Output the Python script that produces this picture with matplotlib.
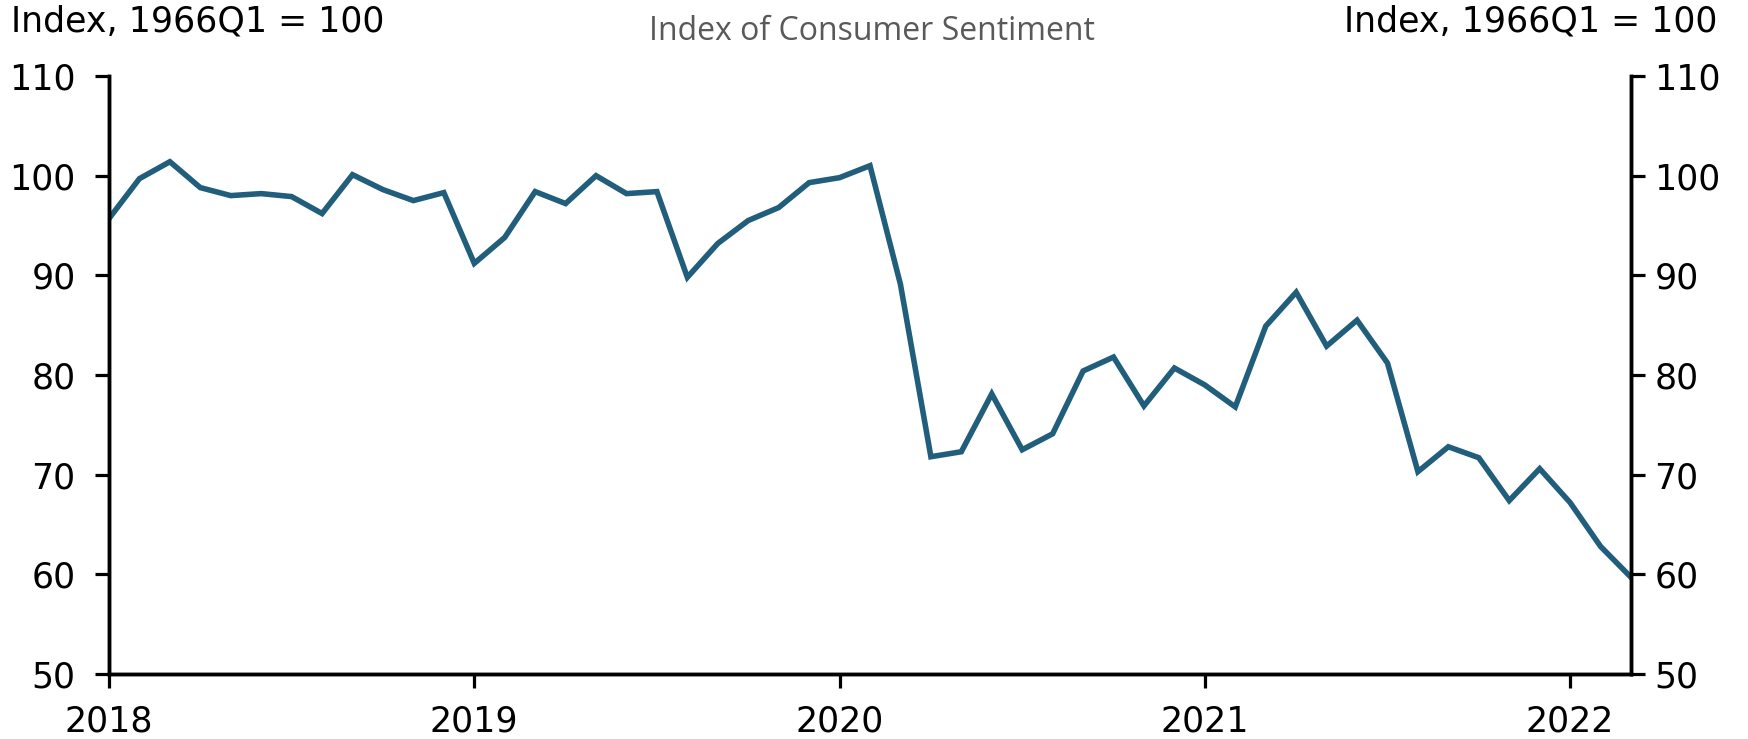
import matplotlib
matplotlib.use("Agg")
import matplotlib.pyplot as plt
import numpy as np

months = [f"{y}-{m:02d}" for y in range(2018, 2023) for m in range(1, 13)][:51]
sentiment = [
    95.7, 99.7, 101.4, 98.8, 98.0, 98.2, 97.9, 96.2, 100.1, 98.6, 97.5, 98.3,
    91.2, 93.8, 98.4, 97.2, 100.0, 98.2, 98.4, 89.8, 93.2, 95.5, 96.8, 99.3,
    99.8, 101.0, 89.1, 71.8, 72.3, 78.1, 72.5, 74.1, 80.4, 81.8, 76.9, 80.7,
    79.0, 76.8, 84.9, 88.3, 82.9, 85.5, 81.2, 70.3, 72.8, 71.7, 67.4, 70.6,
    67.2, 62.8, 59.7,
]
year_labels = ["2018", "2019", "2020", "2021", "2022"]
y_ticks = [50, 60, 70, 80, 90, 100, 110]
title = "Index of Consumer Sentiment"
unit = "Index, 1966Q1 = 100"

plt.rcParams['font.family'] = ['DejaVu Sans']

fig = plt.figure(figsize=(17.48, 7.39), dpi=100)
ax = fig.add_axes([109/1748, 1 - 674/739, (1631-109)/1748, (674-76)/739])

x = np.arange(len(sentiment))
ax.plot(x, sentiment, color="#215E7C", lw=4.0, solid_joinstyle="miter")

ax.set_xlim(0, len(sentiment) - 1)
ax.set_ylim(50, 110)
ax.set_xticks([months.index(f"{y}-01") for y in year_labels])
ax.set_xticklabels(year_labels)
ax.set_yticks(y_ticks)
ax.tick_params(axis="both", labelsize=25, width=2.3, length=10, direction="out", color="black")
ax.tick_params(axis="y", pad=14)
ax.tick_params(axis="x", pad=12)

ax2 = ax.twinx()
ax2.set_ylim(ax.get_ylim())
ax2.set_yticks(y_ticks)
ax2.tick_params(axis="y", labelsize=25, width=2.3, length=10, direction="out", color="black", pad=7)

for a in (ax, ax2):
    a.spines["top"].set_visible(False)
    for s in ["left", "right", "bottom"]:
        a.spines[s].set_linewidth(2.5)
        a.spines[s].set_color("black")

fig.text(11/1748, 1 - 22/739, unit, fontsize=25, ha="left", va="center")
fig.text(1717/1748, 1 - 22/739, unit, fontsize=25, ha="right", va="center")
fig.text(872/1748, 1 - 32/739, title, fontsize=23, ha="center", va="center",
         color="#595959", family=["Open Sans", "DejaVu Sans"])

fig.savefig("out.png", dpi=100)
